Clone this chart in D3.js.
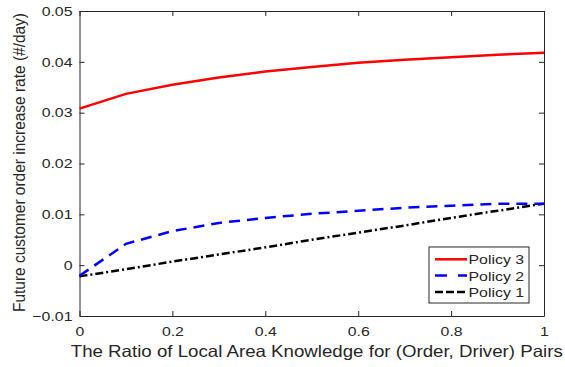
<!DOCTYPE html>
<html>
<head>
<meta charset="utf-8">
<script src="https://cdn.jsdelivr.net/npm/d3@7"></script>
<style>
  body { margin: 0; background: #fff; }
  text { font-family: "Liberation Sans", Arial, sans-serif; fill: #262626; }
</style>
</head>
<body>
<div id="chart"></div>
<script>
const ratio = [0, 0.1, 0.2, 0.3, 0.4, 0.5, 0.6, 0.7, 0.8, 0.9, 1];
const policy3 = [0.0308, 0.0337, 0.0355, 0.0369, 0.0381, 0.0390, 0.0398, 0.0404, 0.0409, 0.0414, 0.0418];
const policy2 = [-0.0021, 0.0042, 0.0067, 0.0083, 0.0093, 0.0101, 0.0107, 0.0113, 0.0117, 0.0121, 0.0121];
const policy1 = [-0.0022, -0.0008, 0.0007, 0.0021, 0.0035, 0.0050, 0.0064, 0.0078, 0.0093, 0.0107, 0.0121];
const xTicks = [0, 0.2, 0.4, 0.6, 0.8, 1];
const yTicks = [-0.01, 0, 0.01, 0.02, 0.03, 0.04, 0.05];

const svgWidth = 565;
const svgHeight = 367;
const margin = { top: 11, right: 21, bottom: 51, left: 79.5 };
const width = svgWidth - margin.left - margin.right;
const height = svgHeight - margin.top - margin.bottom;

// the reference text looks stretched sideways
const stretch = 1.22;

const svg = d3.select("#chart")
  .append("svg")
  .attr("width", svgWidth)
  .attr("height", svgHeight);

const chartGroup = svg.append("g")
  .attr("transform", `translate(${margin.left}, ${margin.top})`);

const x = d3.scaleLinear().domain([0, 1]).range([0, width]);
const y = d3.scaleLinear().domain([-0.01, 0.05]).range([height, 0]);

const fmtY = d => d === 0 ? "0" : d3.format(".2f")(d);
const fmtX = d => d === 0 || d === 1 ? String(d) : d3.format(".1f")(d);

function widen(sel) {
  sel.each(function() {
    const w = this.getComputedTextLength();
    d3.select(this).attr("textLength", w * stretch).attr("lengthAdjust", "spacingAndGlyphs");
  });
}

function styleAxis(g) {
  g.selectAll(".domain").attr("stroke", "#262626").attr("stroke-width", 1);
  g.selectAll(".tick line").attr("stroke", "#262626");
  g.selectAll(".tick text").attr("font-size", 13).attr("fill", "#262626")
    .attr("font-family", "Liberation Sans, Arial, sans-serif");
}

// bottom / left with labels, top / right without
chartGroup.append("g")
  .attr("transform", `translate(0, ${height})`)
  .call(d3.axisBottom(x).tickValues(xTicks).tickFormat(fmtX).tickSizeInner(-5).tickSizeOuter(0).tickPadding(11))
  .call(styleAxis)
  .selectAll(".tick text").call(widen);
chartGroup.append("g")
  .call(d3.axisTop(x).tickValues(xTicks).tickFormat("").tickSizeInner(-5).tickSizeOuter(0))
  .call(styleAxis);
chartGroup.append("g")
  .call(d3.axisLeft(y).tickValues(yTicks).tickFormat(fmtY).tickSizeInner(-5).tickSizeOuter(0).tickPadding(7))
  .call(styleAxis)
  .selectAll(".tick text").call(widen);
chartGroup.append("g")
  .attr("transform", `translate(${width}, 0)`)
  .call(d3.axisRight(y).tickValues(yTicks).tickFormat("").tickSizeInner(-5).tickSizeOuter(0))
  .call(styleAxis);

const series = [
  { name: "Policy 3", values: policy3, color: "#ff0000", dash: null, key: null },
  { name: "Policy 2", values: policy2, color: "#0000ff", dash: "11,7", key: "12,11" },
  { name: "Policy 1", values: policy1, color: "#000000", dash: "8,3,2,3", key: "8,3" }
];

const line = d3.line()
  .x((d, i) => x(ratio[i]))
  .y(d => y(d));

series.slice().reverse().forEach(s => {
  chartGroup.append("path")
    .datum(s.values)
    .attr("d", line)
    .attr("fill", "none")
    .attr("stroke", s.color)
    .attr("stroke-width", 2.5)
    .attr("stroke-dasharray", s.dash);
});

// axis labels
svg.append("text")
  .attr("x", margin.left + width / 2 + 5)
  .attr("y", 357)
  .attr("text-anchor", "middle")
  .attr("font-size", 16.5)
  .attr("textLength", 492)
  .attr("lengthAdjust", "spacingAndGlyphs")
  .text("The Ratio of Local Area Knowledge for (Order, Driver) Pairs");

svg.append("text")
  .attr("transform", "translate(25, 162.5) rotate(-90)")
  .attr("text-anchor", "middle")
  .attr("font-size", 16)
  .attr("textLength", 299)
  .attr("lengthAdjust", "spacingAndGlyphs")
  .text("Future customer order increase rate (#/day)");

// legend
const legend = svg.append("g").attr("transform", "translate(429, 247)");
legend.append("rect")
  .attr("width", 100).attr("height", 56)
  .attr("fill", "#fff").attr("stroke", "#262626").attr("stroke-width", 1);
series.forEach((s, i) => {
  const ly = 12.3 + i * 16.3;
  legend.append("line")
    .attr("x1", 6).attr("x2", 38).attr("y1", ly).attr("y2", ly)
    .attr("stroke", s.color).attr("stroke-width", 2.5)
    .attr("stroke-dasharray", s.key);
  legend.append("text")
    .attr("x", 39.5).attr("y", ly + 5)
    .attr("font-size", 13)
    .text(s.name)
    .call(widen);
});
</script>
</body>
</html>
